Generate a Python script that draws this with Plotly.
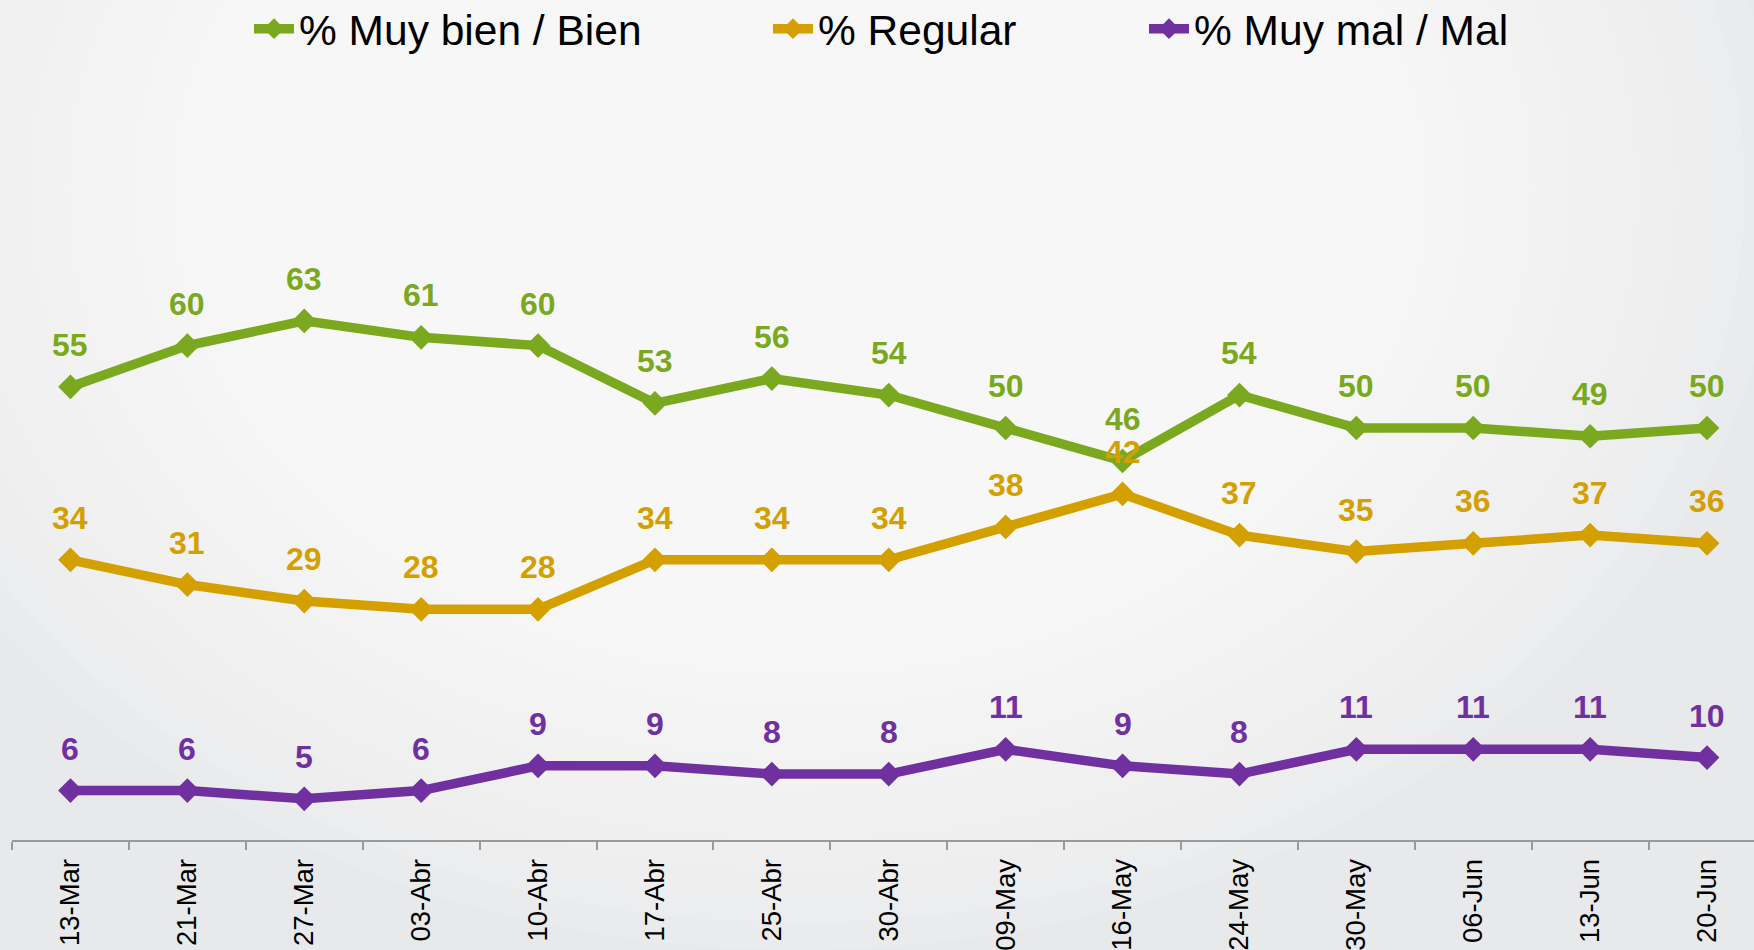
import plotly.graph_objects as go

categories = ["13-Mar", "21-Mar", "27-Mar", "03-Abr", "10-Abr", "17-Abr", "25-Abr", "30-Abr",
              "09-May", "16-May", "24-May", "30-May", "06-Jun", "13-Jun", "20-Jun"]
bien = [55, 60, 63, 61, 60, 53, 56, 54, 50, 46, 54, 50, 50, 49, 50]
regular = [34, 31, 29, 28, 28, 34, 34, 34, 38, 42, 37, 35, 36, 37, 36]
mal = [6, 6, 5, 6, 9, 9, 8, 8, 11, 9, 8, 11, 11, 11, 10]

series = [
    ("% Muy bien / Bien", bien, "#7aa81e", "legend"),
    ("% Regular", regular, "#d4a000", "legend2"),
    ("% Muy mal / Mal", mal, "#7030a0", "legend3"),
]

W, H = 1754, 950
ML, MR, MT, MB = 12, 0, 0, 110
PW, PH = W - ML - MR, H - MT - MB
FONT = "Liberation Sans, Arial, sans-serif"

fig = go.Figure()
annotations = []
for name, vals, color, leg in series:
    fig.add_trace(go.Scatter(
        x=categories, y=vals, name=name, mode="lines+markers",
        line=dict(color=color, width=9.5),
        marker=dict(symbol="diamond", size=19, color=color),
        legend=leg,
    ))
    for c, v in zip(categories, vals):
        annotations.append(dict(
            x=c, y=v, xref="x", yref="y", text=str(v), showarrow=False,
            yanchor="middle", xanchor="center", yshift=42,
            font=dict(family=FONT, size=32, color=color, weight="bold"),
        ))

# radial background glow (stepped concentric ellipses)
def px2paper(px, py):
    return (px - ML) / PW, (H - MB - py) / PH

shapes = []
N = 28
cx, cy = 800, 190
RX, RY = 980, 760
for k in range(N):
    f = 1 - k / N
    x0, y0 = px2paper(cx - RX * f, cy + RY * f)
    x1, y1 = px2paper(cx + RX * f, cy - RY * f)
    shapes.append(dict(type="circle", xref="paper", yref="paper",
                       x0=x0, y0=y0, x1=x1, y1=y1,
                       fillcolor="white", opacity=0.1, line=dict(width=0),
                       layer="below"))

def leg(px):
    return dict(xref="container", yref="container",
                x=px / W, y=1 - 29 / H, xanchor="left", yanchor="middle",
                orientation="h", bgcolor="rgba(0,0,0,0)",
                font=dict(family=FONT, size=42.5, color="#000000"), itemwidth=40)

fig.update_layout(
    width=W, height=H,
    margin=dict(l=ML, r=MR, t=MT, b=MB, autoexpand=False),
    paper_bgcolor="#e8e9eb",
    plot_bgcolor="rgba(0,0,0,0)",
    font=dict(family=FONT),
    showlegend=True,
    legend=leg(249),
    legend2=leg(768),
    legend3=leg(1144),
    annotations=annotations,
    shapes=shapes,
    xaxis=dict(
        type="category", range=[-0.5, -0.5 + PW / 116.9],
        showgrid=False, zeroline=False,
        showline=True, linecolor="#9a9a9a", linewidth=2,
        ticks="outside", ticklen=8, tickcolor="#9a9a9a", tickwidth=2,
        tickson="boundaries", tickangle=-90, ticklabelstandoff=6,
        tickfont=dict(family=FONT, size=27.5, color="#000000"),
    ),
    yaxis=dict(range=[0, PH / 8.24], visible=False, fixedrange=True),
)

fig.write_html("out.html", config={"displayModeBar": False},
               post_script="document.body.style.margin='0';document.body.style.background='#e8e9eb';")
